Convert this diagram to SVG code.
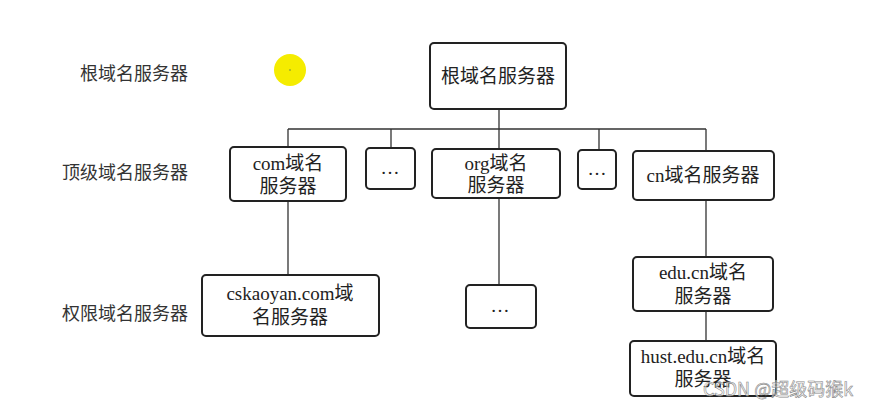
<svg xmlns="http://www.w3.org/2000/svg" width="878" height="408" viewBox="0 0 878 408">
<style>
.box{fill:#fff;stroke:#222;stroke-width:2}
.t{font-family:"Liberation Serif","Noto Sans CJK SC",serif;font-size:19px;fill:#222;text-anchor:middle}
.lbl{font-family:"Noto Sans CJK SC",sans-serif;font-size:18px;fill:#333;text-anchor:end}
.c{stroke:#333;stroke-width:1.3;fill:none}
</style>
<rect width="878" height="408" fill="#fff"/>
<circle cx="290" cy="70" r="16" fill="#f5ec00"/>
<circle cx="290" cy="70" r="0.8" fill="#6a8a3a"/>
<g id="labels">
<text class="lbl" x="188" y="80">根域名服务器</text>
<text class="lbl" x="188" y="179">顶级域名服务器</text>
<text class="lbl" x="188" y="320">权限域名服务器</text>
</g>
<g id="connectors">
<path class="c" d="M499 109V129M288 129H706M288 129V147M391 129V148M499 129V149M599 129V150M706 129V151"/>
<path class="c" d="M288 201V275M499 198V285M706 200V257M706 311V341"/>
</g>
<g id="root"><rect class="box" x="430" y="43" width="136" height="66" rx="4"/><text class="t" x="498" y="83">根域名服务器</text></g>
<g id="com"><rect class="box" x="230" y="147" width="116" height="54" rx="4"/><text class="t" x="288" y="170">com域名</text><text class="t" x="288" y="193">服务器</text></g>
<g id="dots1"><rect class="box" x="366" y="148" width="49" height="41" rx="4"/><text class="t" x="390" y="174">…</text></g>
<g id="org"><rect class="box" x="432" y="149" width="128" height="49" rx="4"/><text class="t" x="496" y="170">org域名</text><text class="t" x="496" y="192">服务器</text></g>
<g id="dots2"><rect class="box" x="578" y="150" width="38" height="39" rx="4"/><text class="t" x="597" y="175">…</text></g>
<g id="cn"><rect class="box" x="633" y="151" width="141" height="49" rx="4"/><text class="t" x="703" y="182">cn域名服务器</text></g>
<g id="cskaoyan"><rect class="box" x="202" y="275" width="177" height="61" rx="4"/><text class="t" x="290" y="300">cskaoyan.com域</text><text class="t" x="290" y="324">名服务器</text></g>
<g id="dots3"><rect class="box" x="466" y="285" width="70" height="43" rx="4"/><text class="t" x="500" y="312">…</text></g>
<g id="educn"><rect class="box" x="633" y="257" width="140" height="54" rx="4"/><text class="t" x="703" y="279">edu.cn域名</text><text class="t" x="703" y="303">服务器</text></g>
<g id="hust"><rect class="box" x="630" y="341" width="146" height="55" rx="4"/><text class="t" x="703" y="363">hust.edu.cn域名</text><text class="t" x="703" y="386">服务器</text></g>
<text x="703" y="396" font-family="Noto Sans CJK SC,sans-serif" font-size="18" fill="#fff" fill-opacity="0.6" stroke="#888" stroke-width="0.6">CSDN @超级码猴k</text>
</svg>
